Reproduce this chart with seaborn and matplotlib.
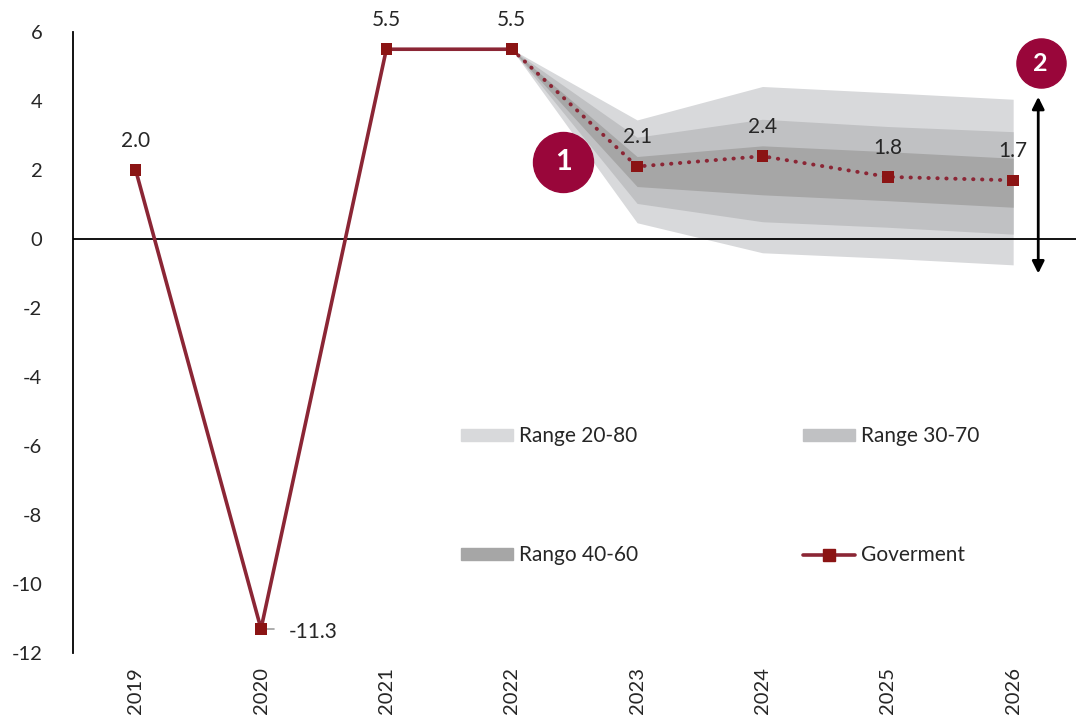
import matplotlib
matplotlib.use("Agg")
import matplotlib.pyplot as plt
from matplotlib.lines import Line2D
from matplotlib.patches import Patch
import seaborn as sns
import pandas as pd

# Observed and projected GDP growth (%)
years = ["2019", "2020", "2021", "2022", "2023", "2024", "2025", "2026"]
government = [2.0, -11.3, 5.5, 5.5, 2.1, 2.4, 1.8, 1.7]

# Forecast distribution bands (from 2022 onward)
band_years = ["2022", "2023", "2024", "2025", "2026"]
p20 = [5.5, 0.47, -0.40, -0.56, -0.75]
p80 = [5.5, 3.45, 4.42, 4.24, 4.05]
p30 = [5.5, 1.03, 0.50, 0.34, 0.14]
p70 = [5.5, 2.95, 3.47, 3.26, 3.11]
p40 = [5.5, 1.52, 1.28, 1.11, 0.92]
p60 = [5.5, 2.39, 2.70, 2.53, 2.34]

sns.set_style("white")
plt.rcParams["font.family"] = ["Lato", "DejaVu Sans"]

LINE = "#8B2635"
MARK = "#8B1414"
BADGE = "#99063A"
C2080, C3070, C4060 = "#D8D9DB", "#C0C1C3", "#A6A6A6"

fig = plt.figure(figsize=(10.78, 7.17), dpi=100)
ax = fig.add_axes([0.0677, 0.0893, 0.9303, 0.8661])

xpos = {y: i for i, y in enumerate(years)}
bx = [xpos[y] for y in band_years]

ax.fill_between(bx, p20, p80, color=C2080, lw=0, zorder=1)
ax.fill_between(bx, p30, p70, color=C3070, lw=0, zorder=2)
ax.fill_between(bx, p40, p60, color=C4060, lw=0, zorder=3)

df = pd.DataFrame({"x": range(len(years)), "y": government})
hist = df.iloc[:4]
proj = df.iloc[3:]
sns.lineplot(data=hist, x="x", y="y", ax=ax, color=LINE, lw=2.6, zorder=5)
sns.lineplot(data=proj, x="x", y="y", ax=ax, color=LINE, lw=2.8,
             linestyle=(0, (0.1, 2.2)), zorder=5)
ax.lines[-1].set_dash_capstyle("round")
sns.scatterplot(data=df, x="x", y="y", ax=ax, marker="s", s=70, color=MARK,
                edgecolor="none", zorder=6, legend=False)

ax.axhline(0, color="black", lw=1.3, zorder=4)

# Value labels
for i, v in enumerate(government):
    if v < 0:
        ax.plot([i + 0.03, i + 0.1], [v, v], color="#A0A0A0", lw=1.2, zorder=5)
        ax.annotate(f"{v:.1f}", (i, v), xytext=(20, -2), textcoords="offset points",
                    ha="left", va="center", fontsize=15)
    else:
        ax.annotate(f"{v:.1f}", (i, v), xytext=(0, 21), textcoords="offset points",
                    ha="center", va="center", fontsize=15)

# Numbered badges
ax.scatter([3.41], [2.23], s=1866, color=BADGE, zorder=7)
ax.text(3.41, 2.23, "1", color="white", fontsize=21, fontweight="bold",
        ha="center", va="center", zorder=8)
ax.scatter([7.22], [5.10], s=1250, color=BADGE, zorder=7, clip_on=False)
ax.text(7.22, 5.10, "2", color="white", fontsize=18, fontweight="bold",
        ha="center", va="center", zorder=8)

# Uncertainty span arrow
ax.annotate("", xy=(7.2, 4.12), xytext=(7.2, -1.0),
            arrowprops=dict(arrowstyle="<|-|>", color="black", lw=2,
                            mutation_scale=18, shrinkA=0, shrinkB=0), zorder=8)

ax.set_xlim(-0.5, 7.5)
ax.set_ylim(-12, 6)
ax.set_yticks(range(-12, 7, 2))
ax.set_yticklabels([str(t) for t in range(-12, 7, 2)], fontsize=14.5)
ax.set_xticks(range(len(years)))
ax.set_xticklabels(years, rotation=90, fontsize=14.5)
ax.tick_params(axis="y", length=0, pad=22)
ax.tick_params(axis="x", length=0, pad=10)
ax.set_xlabel("")
ax.set_ylabel("")
for s in ["top", "right", "bottom"]:
    ax.spines[s].set_visible(False)
ax.spines["left"].set_color("black")
ax.spines["left"].set_linewidth(1.3)

handles = [
    Patch(color=C2080, label="Range 20-80"),
    Patch(color=C4060, label="Rango 40-60"),
    Patch(color=C3070, label="Range 30-70"),
    Line2D([0], [0], color=LINE, lw=2.6, marker="s", markersize=9,
           markerfacecolor=MARK, markeredgecolor=MARK, label="Goverment"),
]
leg = ax.legend(handles=handles, ncol=2, frameon=False, fontsize=15,
                loc="upper left", bbox_to_anchor=(0.368, 0.395),
                handlelength=2.52, handleheight=0.56, handletextpad=0.28,
                labelspacing=4.75, columnspacing=7.9)
leg.set_zorder(10)

fig.savefig("out.png", dpi=100)
